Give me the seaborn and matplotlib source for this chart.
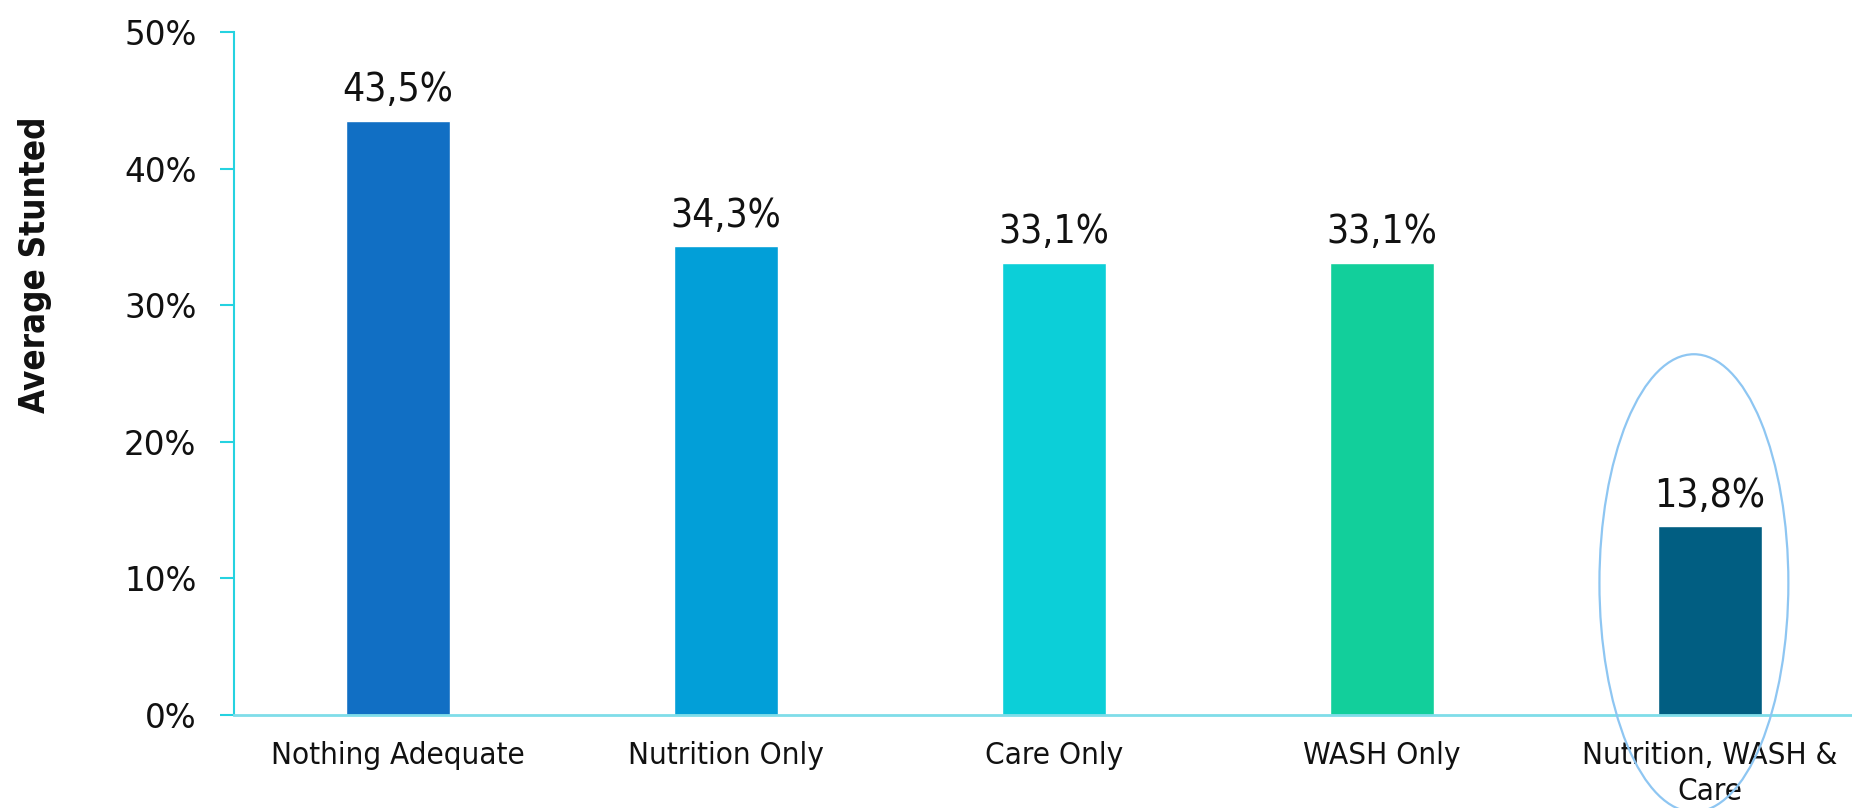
import matplotlib
matplotlib.use("Agg")
import matplotlib.pyplot as plt
from matplotlib.patches import Ellipse
import seaborn as sns
import pandas as pd

categories = ["Nothing Adequate", "Nutrition Only", "Care Only", "WASH Only", "Nutrition, WASH &\nCare"]
values = [43.5, 34.3, 33.1, 33.1, 13.8]
value_labels = ["43,5%", "34,3%", "33,1%", "33,1%", "13,8%"]
bar_colors = ["#116fc4", "#029fd8", "#0ccfd8", "#12cf9b", "#015e82"]
yticks = [0, 10, 20, 30, 40, 50]
ytick_labels = ["0%", "10%", "20%", "30%", "40%", "50%"]

sns.set_theme(style="white")
plt.rcParams["font.family"] = ["DejaVu Sans"]

df = pd.DataFrame({"cat": categories, "val": values})

fig = plt.figure(figsize=(18.52, 8.08), dpi=100)
ax = fig.add_axes([234 / 1852, 93 / 808, 1 - 234 / 1852, (715 - 32) / 808])

sns.barplot(data=df, x="cat", y="val", hue="cat", palette=bar_colors,
            legend=False, width=0.317, ax=ax, saturation=1)

ax.set_ylim(0, 50)
ax.set_xlim(-0.5, 4.433)
ax.set_yticks(yticks)
ax.set_yticklabels(ytick_labels, fontsize=23.5, color="#111111")
ax.set_xticks(range(len(categories)))
ax.set_xticklabels(categories, fontsize=22.5, fontstretch="condensed", color="#111111", linespacing=1.3)
ax.tick_params(axis="y", length=10, width=1.5, color="#25d2e0", pad=17, left=True)
ax.tick_params(axis="x", length=0, pad=19)
ax.set_xlabel("")
ax.set_ylabel("")

for s in ["top", "right"]:
    ax.spines[s].set_visible(False)
ax.spines["left"].set_color("#25d2e0")
ax.spines["left"].set_linewidth(1.5)
ax.spines["bottom"].set_color("#7fdde9")
ax.spines["bottom"].set_linewidth(2)

for i, (v, lab) in enumerate(zip(values, value_labels)):
    ax.annotate(lab, (i, v), xytext=(0, 14), textcoords="offset points",
                ha="center", va="baseline", fontsize=28, fontstretch="condensed", color="#111111")

ell = Ellipse((4 - 0.049, 9.66), width=0.576, height=33.5, fill=False,
              edgecolor="#8ec6f2", linewidth=1.6, clip_on=False, zorder=5)
ax.add_patch(ell)

fig.text(35 / 1852, 1 - 265 / 808, "Average Stunted", rotation=90, ha="center", va="center",
         fontsize=25, fontweight="bold", fontstretch="condensed", color="#111111")

fig.savefig("out.png", dpi=100)
